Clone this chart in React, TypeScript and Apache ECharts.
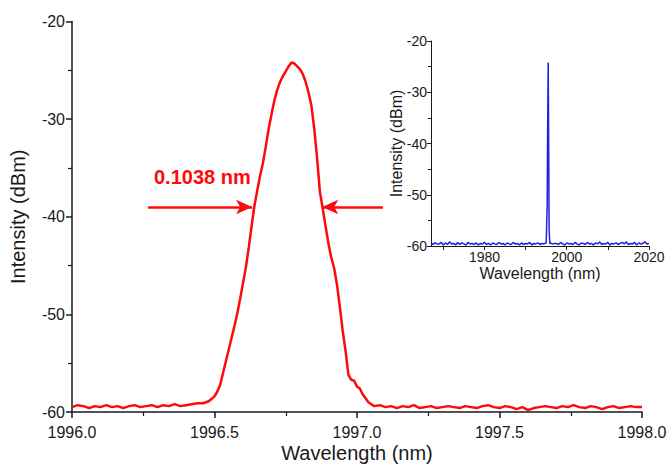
import React, { useEffect, useRef } from "react";
import * as echarts from "echarts";

// ---- Main spectrum (zoomed view) ----
const LEFT_BASE_START = 1996.0;
const BASE_STEP = 0.02;
const LEFT_BASE_VALUES = [
  -59.5, -59.3, -59.4, -59.6, -59.4, -59.5, -59.3, -59.5, -59.4, -59.6,
  -59.4, -59.3, -59.5, -59.4, -59.3, -59.5, -59.3, -59.4, -59.2, -59.4,
  -59.3, -59.2, -59.1, -59.1, -58.9,
];
const PEAK_WAVELENGTHS = [
  1996.5, 1996.51, 1996.52, 1996.53, 1996.54, 1996.55, 1996.56, 1996.57, 1996.58, 1996.59,
  1996.6, 1996.61, 1996.62, 1996.63, 1996.64, 1996.65, 1996.66, 1996.67, 1996.68, 1996.69,
  1996.7, 1996.71, 1996.72, 1996.73, 1996.74, 1996.75, 1996.76, 1996.77, 1996.78, 1996.79,
  1996.8, 1996.81, 1996.82, 1996.83, 1996.84, 1996.85, 1996.86, 1996.87, 1996.88, 1996.89,
  1996.9, 1996.91, 1996.92, 1996.93, 1996.94, 1996.95, 1996.96, 1996.97, 1996.98, 1996.99,
  1997.0, 1997.01, 1997.02, 1997.03, 1997.04, 1997.05, 1997.06, 1997.08,
];
const PEAK_VALUES = [
  -58.4, -57.9, -57.2, -56.0, -54.8, -53.6, -52.4, -51.2, -49.9, -48.4,
  -46.8, -45.2, -43.2, -41.0, -38.9, -37.3, -35.8, -34.5, -32.8, -31.0,
  -29.5, -28.1, -27.0, -26.2, -25.6, -25.1, -24.6, -24.2, -24.3, -24.6,
  -24.9, -25.4, -26.2, -27.3, -28.6, -31.0, -34.0, -37.5, -39.2, -41.0,
  -42.8, -44.2, -45.3, -47.0, -49.3, -51.7, -53.8, -56.2, -56.7, -56.8,
  -57.4, -57.6, -58.2, -58.6, -59.0, -59.2, -59.4, -59.3,
];
const RIGHT_BASE_START = 1997.1;
const RIGHT_BASE_VALUES = [
  -59.5, -59.4, -59.6, -59.4, -59.5, -59.3, -59.6, -59.5, -59.4, -59.6,
  -59.5, -59.4, -59.5, -59.6, -59.4, -59.5, -59.6, -59.4, -59.3, -59.5,
  -59.6, -59.4, -59.5, -59.7, -59.5, -59.8, -59.6, -59.5, -59.4, -59.5,
  -59.6, -59.4, -59.5, -59.3, -59.5, -59.6, -59.4, -59.5, -59.7, -59.5,
  -59.4, -59.6, -59.5, -59.4, -59.5, -59.5,
];

// ---- Inset (full span) ----
const INSET_X_MIN = 1967;
const INSET_X_MAX = 2020;
const INSET_X_LABELS = [1980, 2000, 2020];
const INSET_X_TICKS = [1970, 1980, 1990, 2000, 2010, 2020];
const INSET_LEFT_START = 1967.0;
const INSET_STEP = 0.5;
const INSET_LEFT_VALUES = [
  -59.5, -59.7, -59.4, -59.6,
  -59.6, -59.3, -59.8, -59.4, -59.7, -59.2, -59.6, -59.5, -59.8, -59.3,
  -59.7, -59.4, -59.6, -59.8, -59.3, -59.6, -59.5, -59.7, -59.4, -59.8,
  -59.5, -59.6, -59.3, -59.7, -59.5, -59.8, -59.4, -59.6, -59.7, -59.3,
  -59.6, -59.5, -59.8, -59.4, -59.6, -59.7, -59.3, -59.6, -59.5, -59.8,
  -59.4, -59.7, -59.5, -59.6, -59.3, -59.8, -59.5, -59.6, -59.4, -59.7,
  -59.5, -59.6, -59.4,
];
const INSET_PEAK_WAVELENGTHS = [1995.1, 1995.25, 1995.35, 1995.5, 1995.62, 1995.72, 1995.9];
const INSET_PEAK_VALUES = [-59.5, -52.0, -38.0, -24.2, -42.0, -57.0, -59.6];
const INSET_RIGHT_START = 1996.0;
const INSET_RIGHT_VALUES = [
  -59.4, -59.6, -59.5,
  -59.5, -59.7, -59.3, -59.6, -59.8, -59.4, -59.6, -59.5, -59.7, -59.3,
  -59.6, -59.8, -59.4, -59.5, -59.7, -59.3, -59.6, -59.5, -59.8, -59.4,
  -59.6, -59.2, -59.7, -59.5, -59.6, -59.3, -59.8, -59.5, -59.6, -59.4,
  -59.7, -59.5, -59.3, -59.6, -59.2, -59.7, -59.5, -59.6, -59.3, -59.8,
  -59.4, -59.6, -59.5, -59.2, -59.6, -59.5,
];

// ---- Annotation (FWHM arrows) ----
const FWHM_LABEL = "0.1038 nm";
const ARROW_Y = -39.0;
const ARROW_LEFT_FROM = 1996.267;
const ARROW_LEFT_TO = 1996.632;
const ARROW_RIGHT_FROM = 1997.091;
const ARROW_RIGHT_TO = 1996.878;

const baseline = (start: number, step: number, vals: number[]) =>
  vals.map((v, i) => [Number((start + i * step).toFixed(3)), v]);

const mainData = [
  ...baseline(LEFT_BASE_START, BASE_STEP, LEFT_BASE_VALUES),
  ...PEAK_WAVELENGTHS.map((x, i) => [x, PEAK_VALUES[i]]),
  ...baseline(RIGHT_BASE_START, BASE_STEP, RIGHT_BASE_VALUES),
];
const insetData = [
  ...baseline(INSET_LEFT_START, INSET_STEP, INSET_LEFT_VALUES),
  ...INSET_PEAK_WAVELENGTHS.map((x, i) => [x, INSET_PEAK_VALUES[i]]),
  ...baseline(INSET_RIGHT_START, INSET_STEP, INSET_RIGHT_VALUES),
];

const FONT = "Liberation Sans, Arial, sans-serif";
const INK = "#1a1a1a";

export default function App() {
  const ref = useRef<HTMLDivElement>(null);
  useEffect(() => {
    document.body.style.margin = "0";
    if (!ref.current) return;
    const chart = echarts.init(ref.current, null, { renderer: "svg" });
    const axisCommon = {
      axisLine: { show: true, onZero: false, lineStyle: { color: INK, width: 1.5 } },
      splitLine: { show: false },
    };
    chart.setOption({
      animation: false,
      backgroundColor: "#ffffff",
      textStyle: { fontFamily: FONT },
      grid: [
        { left: 72, right: 26, top: 21.5, bottom: 54, containLabel: false, outerBoundsMode: "none" },
        { left: 431, top: 41, width: 218, height: 205, containLabel: false, outerBoundsMode: "none" },
      ],
      xAxis: [
        {
          ...axisCommon,
          type: "value",
          gridIndex: 0,
          min: 1996,
          max: 1998,
          interval: 0.5,
          axisTick: { show: true, length: 6, lineStyle: { color: INK, width: 1.5 } },
          minorTick: { show: true, splitNumber: 2, length: 4, lineStyle: { color: INK, width: 1.2 } },
          axisLabel: {
            color: INK,
            fontSize: 16,
            margin: 12,
            formatter: (v: number) => v.toFixed(1),
          },
          name: "Wavelength (nm)",
          nameLocation: "middle",
          nameGap: 31,
          nameMoveOverlap: false,
          nameTextStyle: { color: INK, fontSize: 20 },
        },
        {
          ...axisCommon,
          type: "value",
          gridIndex: 1,
          min: INSET_X_MIN,
          max: INSET_X_MAX,
          axisLine: { show: true, onZero: false, lineStyle: { color: INK, width: 1 } },
          axisTick: {
            show: true,
            length: 4,
            customValues: INSET_X_TICKS,
            lineStyle: { color: INK, width: 1 },
          },
          axisLabel: {
            color: INK,
            fontSize: 14,
            margin: 4,
            customValues: INSET_X_LABELS,
            formatter: (v: number) => String(v),
          },
          name: "Wavelength (nm)",
          nameLocation: "middle",
          nameGap: 19,
          nameMoveOverlap: false,
          nameTextStyle: { color: INK, fontSize: 16 },
        },
      ],
      yAxis: [
        {
          ...axisCommon,
          type: "value",
          gridIndex: 0,
          min: -60,
          max: -20,
          interval: 10,
          axisTick: { show: true, length: 6, lineStyle: { color: INK, width: 1.5 } },
          minorTick: { show: true, splitNumber: 2, length: 4, lineStyle: { color: INK, width: 1.2 } },
          axisLabel: { color: INK, fontSize: 16, margin: 7 },
          name: "Intensity (dBm)",
          nameLocation: "middle",
          nameGap: 44,
          nameMoveOverlap: false,
          nameTextStyle: { color: INK, fontSize: 20 },
        },
        {
          ...axisCommon,
          type: "value",
          gridIndex: 1,
          min: -60,
          max: -20,
          interval: 10,
          axisLine: { show: true, onZero: false, lineStyle: { color: INK, width: 1 } },
          axisTick: { show: true, length: 4, lineStyle: { color: INK, width: 1 } },
          minorTick: { show: true, splitNumber: 2, length: 3, lineStyle: { color: INK, width: 1 } },
          axisLabel: { color: INK, fontSize: 14, margin: 4 },
          name: "Intensity (dBm)",
          nameLocation: "middle",
          nameGap: 27,
          nameMoveOverlap: false,
          nameTextStyle: { color: INK, fontSize: 16 },
        },
      ],
      series: [
        {
          type: "line",
          xAxisIndex: 0,
          yAxisIndex: 0,
          data: mainData,
          showSymbol: false,
          symbol: "none",
          lineStyle: { color: "#ff0a0a", width: 2.5 },
          markLine: {
            silent: true,
            symbol: ["none", "arrow"],
            symbolSize: [11, 16],
            lineStyle: { color: "#ff0a0a", width: 2.5, type: "solid" },
            label: { show: false },
            emphasis: { disabled: true },
            data: [
              [{ coord: [ARROW_LEFT_FROM, ARROW_Y] }, { coord: [ARROW_LEFT_TO, ARROW_Y] }],
              [{ coord: [ARROW_RIGHT_FROM, ARROW_Y] }, { coord: [ARROW_RIGHT_TO, ARROW_Y] }],
            ],
          },
        },
        {
          type: "line",
          xAxisIndex: 1,
          yAxisIndex: 1,
          data: insetData,
          showSymbol: false,
          symbol: "none",
          lineStyle: { color: "#1f1fe6", width: 1.5 },
        },
      ],
      graphic: [
        {
          type: "text",
          left: 154,
          top: 167,
          style: {
            text: FWHM_LABEL,
            fill: "#ff0a0a",
            font: `bold 20px ${FONT}`,
          },
        },
      ],
    });
    return () => chart.dispose();
  }, []);
  return <div ref={ref} style={{ width: 668, height: 466 }} />;
}
